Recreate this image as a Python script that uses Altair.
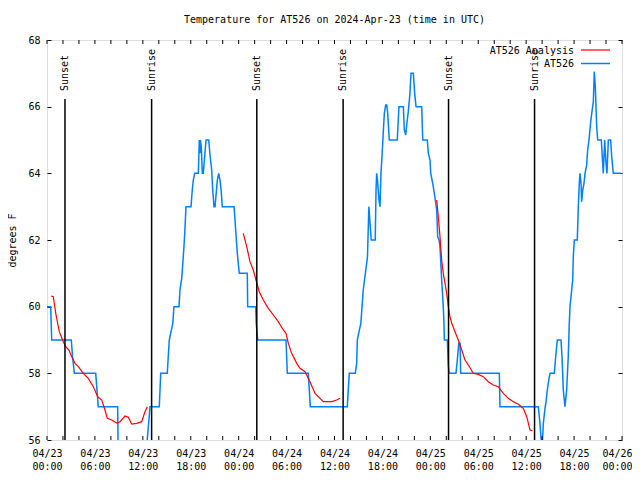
import altair as alt
import pandas as pd

FONT = "DejaVu Sans Mono"

# AT526 observations: hours since 2024-04-23 00:00 UTC, temperature (F)
obs_hours = [0.0, 0.46, 0.59, 3.04, 3.2, 3.42, 6.1, 6.42, 8.85, 8.93, 12.2, 12.9, 14.06, 14.24,
             15.06, 15.31, 15.75, 15.9, 16.53, 16.65, 16.87, 16.99, 17.15, 17.28, 17.4, 18.03,
             18.19, 18.32, 18.5, 18.95, 19.07, 19.15, 19.2, 19.32, 19.45, 19.57, 19.91, 20.25,
             20.41, 20.62, 20.75, 20.91, 21.04, 21.33, 21.5, 21.66, 21.8, 21.95, 23.42, 23.54,
             23.83, 23.95, 24.08, 25.08, 25.13, 26.13, 26.2, 26.38, 29.93, 30.09, 32.72, 32.97,
             37.6, 37.85, 38.6, 38.78, 38.86, 39.07, 39.3, 39.6, 40.13, 40.3, 40.45, 40.6, 41.1,
             41.2, 41.28, 41.4, 41.57, 41.7, 41.82, 41.99, 42.11, 42.24, 42.41, 42.54, 42.66,
             42.86, 43.86, 44.07, 44.62, 44.74, 44.92, 45.04, 45.24, 45.45, 45.58, 45.87, 46.04,
             46.21, 46.92, 47.05, 47.62, 47.75, 47.96, 48.05, 48.3, 48.5, 48.62, 48.8, 48.92,
             49.09, 49.21, 49.42, 49.55, 49.62, 49.71, 49.75, 50.13, 50.25, 50.34, 51.21, 51.38,
             51.56, 51.72, 51.8, 56.64, 56.72, 61.52, 61.73, 61.86, 62.03, 62.15, 62.36, 62.49,
             62.65, 62.86, 62.99, 63.52, 63.7, 63.9, 64.36, 64.49, 64.65, 64.86, 65.07, 65.27,
             65.4, 65.49, 65.7, 65.83, 65.9, 66.03, 66.4, 66.53, 66.65, 66.74, 66.87, 66.95,
             67.08, 67.24, 67.37, 67.58, 67.7, 67.87, 68.08, 68.24, 68.41, 68.53, 68.66, 68.83,
             68.96, 69.41, 69.53, 69.66, 69.83, 70.0, 70.12, 70.29, 70.58, 70.71, 70.91, 71.9]
obs_temps = [60, 60, 59, 59, 58.5, 58, 58, 57, 57, 55, 55, 57, 57, 58,
             58, 59, 59.5, 60, 60, 60.5, 60.85, 61.25, 61.8, 62.35, 63, 63,
             63.5, 63.8, 64, 64, 65, 64.6, 65, 64.8, 64, 64, 65, 65,
             64.55, 64.1, 63.5, 63, 63, 63.8, 64, 63.8, 63.5, 63, 63, 62.6,
             61.6, 61.3, 61, 61, 60, 60, 59.5, 59, 59, 58, 58, 57,
             57, 58, 58, 58.3, 59, 59.25, 59.5, 60.5, 61.5, 63, 62.5, 62, 62,
             63.5, 64, 63.75, 63.2, 63, 64, 64.7, 65.25, 65.8, 66.05, 66.05, 65.8,
             65, 65, 66, 66, 65.3, 65.15, 65.45, 65.85, 66.4, 67, 67, 66.4,
             66, 66, 65, 65, 64.6, 64.4, 64, 63.7, 63.4, 63.2, 62.9, 62.1,
             62, 61.8, 60.8, 60.3, 60, 59.5, 59, 59, 58.25, 58, 58, 58.4,
             58.9, 58.9, 58, 58, 57, 57, 56.5, 56.05, 55.9, 56.5, 56.95, 57.15,
             57.5, 57.85, 58, 58, 58.5, 59, 59, 58.5, 57.5, 57, 57.5, 58.5,
             59.5, 60, 60.5, 60.8, 61.5, 62, 62, 63, 63.7, 64, 63.7, 63.15,
             63.5, 63.7, 64, 64.25, 64.7, 65, 65.55, 65.85, 66.15, 67.05, 66.6, 65.4,
             65, 65, 64.5, 64, 65, 64.3, 64, 65, 65, 64.5, 64, 64]

# AT526 Analysis, three separate runs
ana1_hours = [0.5, 0.79, 1.13, 1.54, 2.04, 2.34, 2.75, 3.09, 3.51, 3.92, 4.55, 5.17, 5.8, 6.35,
              6.85, 7.26, 7.55, 8.1, 8.8, 9.14, 9.77, 10.18, 10.61, 11.23, 11.86, 12.27, 12.56]
ana1_temps = [60.32, 60.3, 59.75, 59.25, 58.95, 58.8, 58.7, 58.5, 58.3, 58.2, 58.0, 57.85, 57.6, 57.3,
              57.2, 56.9, 56.65, 56.6, 56.5, 56.55, 56.72, 56.68, 56.48, 56.5, 56.55, 56.85, 57.0]
ana2_hours = [24.58, 25.01, 25.42, 25.83, 26.17, 26.58, 27.09, 27.71, 28.34, 28.96, 29.59, 29.93,
              30.22, 30.64, 31.27, 31.68, 32.31, 32.93, 33.56, 34.18, 34.6, 35.65, 36.28, 36.69]
ana2_temps = [62.2, 61.8, 61.35, 61.1, 60.8, 60.45, 60.2, 59.95, 59.75, 59.55, 59.3, 59.2,
              58.9, 58.6, 58.3, 58.15, 58.05, 57.75, 57.4, 57.25, 57.15, 57.15, 57.2, 57.25]
ana3_hours = [48.8, 49.0, 49.21, 49.42, 49.62, 49.84, 50.05, 50.25, 50.46, 50.68, 51.09, 51.5,
              51.93, 52.34, 52.76, 53.38, 54.01, 54.63, 55.26, 55.88, 56.51, 57.14, 57.76, 58.39,
              59.02, 59.64, 60.07, 60.48, 60.77]
ana3_temps = [63.2, 62.7, 62.1, 61.4, 61.0, 60.7, 60.4, 60.0, 59.7, 59.5, 59.25, 59.0,
              58.7, 58.4, 58.25, 58.0, 57.97, 57.9, 57.75, 57.65, 57.6, 57.4, 57.25, 57.15,
              57.07, 56.95, 56.7, 56.3, 56.28]

event_hours = [2.25, 13.1, 26.27, 37.08, 50.28, 61.05]
event_labels = ["Sunset", "Sunrise", "Sunset", "Sunrise", "Sunset", "Sunrise"]

x_minor_ticks = list(range(0, 73, 2))
x_label_ticks = list(range(0, 73, 6))
y_ticks = [56, 58, 60, 62, 64, 66, 68]

obs = pd.DataFrame({"h": obs_hours, "t": obs_temps})
ana = pd.concat([
    pd.DataFrame({"h": ana1_hours, "t": ana1_temps, "seg": 1}),
    pd.DataFrame({"h": ana2_hours, "t": ana2_temps, "seg": 2}),
    pd.DataFrame({"h": ana3_hours, "t": ana3_temps, "seg": 3}),
])
events = pd.DataFrame({"h": event_hours, "label": event_labels})
ticks_df = pd.DataFrame({"h": x_minor_ticks})

label_expr = ("['04/' + (23 + floor(datum.value / 24)), "
              "(datum.value % 24 < 10 ? '0' : '') + (datum.value % 24) + ':00']")

xscale = alt.Scale(domain=[0, 72], nice=False, zero=False)
yscale = alt.Scale(domain=[56, 68], nice=False, zero=False)

xaxis = alt.Axis(values=x_label_ticks, labelExpr=label_expr, title=None, grid=False,
                 ticks=False, domain=False, labelPadding=8, labelLineHeight=13,
                 labelOverlap=False, labelFlush=False, labelFont=FONT, labelFontSize=10,
                 labelColor="black",
                 labelAlign={"condition": {"test": "datum.value >= 72", "value": "right"},
                             "value": "center"},
                 labelOffset={"condition": {"test": "datum.value >= 72", "value": 10},
                              "value": 0})
yaxis = alt.Axis(values=y_ticks, title="degrees F", grid=True, gridDash=[4, 567],
                 gridColor="black", gridOpacity=1, gridWidth=1, ticks=False, domain=False,
                 labelPadding=7, labelFont=FONT, labelFontSize=10, labelColor="black",
                 titleFont=FONT, titleFontSize=10, titleFontWeight="normal", titleColor="black",
                 titleX=-35, titleY=200, titleAngle=270, titleAlign="center",
                 titleBaseline="middle")

obs_line = alt.Chart(obs).mark_line(color="#0080ff", strokeWidth=1.5, clip=True).encode(
    x=alt.X("h:Q", scale=xscale, axis=xaxis),
    y=alt.Y("t:Q", scale=yscale, axis=yaxis),
)
ana_line = alt.Chart(ana).mark_line(color="#ff0000", strokeWidth=1.2, clip=True).encode(
    x="h:Q", y="t:Q", detail="seg:N"
)
ticks_bottom = alt.Chart(ticks_df).mark_rule(color="black", strokeWidth=1).encode(
    x="h:Q", y=alt.value(396), y2=alt.value(400)
)
ticks_top = alt.Chart(ticks_df).mark_rule(color="black", strokeWidth=1).encode(
    x="h:Q", y=alt.value(0), y2=alt.value(4)
)
ev_rules = alt.Chart(events).mark_rule(color="black", strokeWidth=1.5).encode(
    x="h:Q", y=alt.value(59), y2=alt.value(400)
)
ev_text = alt.Chart(events).mark_text(angle=270, align="left", baseline="middle",
                                      font=FONT, fontSize=10, color="black").encode(
    x="h:Q", y=alt.value(51), text="label:N"
)

leg1 = alt.Chart(pd.DataFrame({"name": ["AT526 Analysis"]})).mark_text(
    align="right", baseline="middle", font=FONT, fontSize=10, color="black"
).encode(x=alt.value(527), y=alt.value(10.5), text="name:N")
leg1_line = alt.Chart(pd.DataFrame({"name": ["AT526 Analysis"]})).mark_rule(
    color="#ff0000", strokeWidth=1.2
).encode(x=alt.value(534), x2=alt.value(563), y=alt.value(10))
leg2 = alt.Chart(pd.DataFrame({"name": ["AT526"]})).mark_text(
    align="right", baseline="middle", font=FONT, fontSize=10, color="black"
).encode(x=alt.value(527), y=alt.value(24), text="name:N")
leg2_line = alt.Chart(pd.DataFrame({"name": ["AT526"]})).mark_rule(
    color="#0080ff", strokeWidth=1.5
).encode(x=alt.value(534), x2=alt.value(563), y=alt.value(23.5))

chart = alt.layer(obs_line, ana_line, ticks_bottom, ticks_top, ev_rules, ev_text,
                  leg1, leg1_line, leg2, leg2_line).properties(
    width=575, height=400,
    title=alt.TitleParams("Temperature for AT526 on 2024-Apr-23 (time in UTC)", font=FONT,
                          fontSize=10, fontWeight="normal", color="black", anchor="middle",
                          offset=10),
    autosize=alt.AutoSizeParams(type="none"),
    padding={"left": 39, "top": 32, "right": 10, "bottom": 38},
).configure_view(stroke="black", strokeWidth=1).configure(background="white")

chart.save("out.html", embed_options={"renderer": "svg", "actions": False})
